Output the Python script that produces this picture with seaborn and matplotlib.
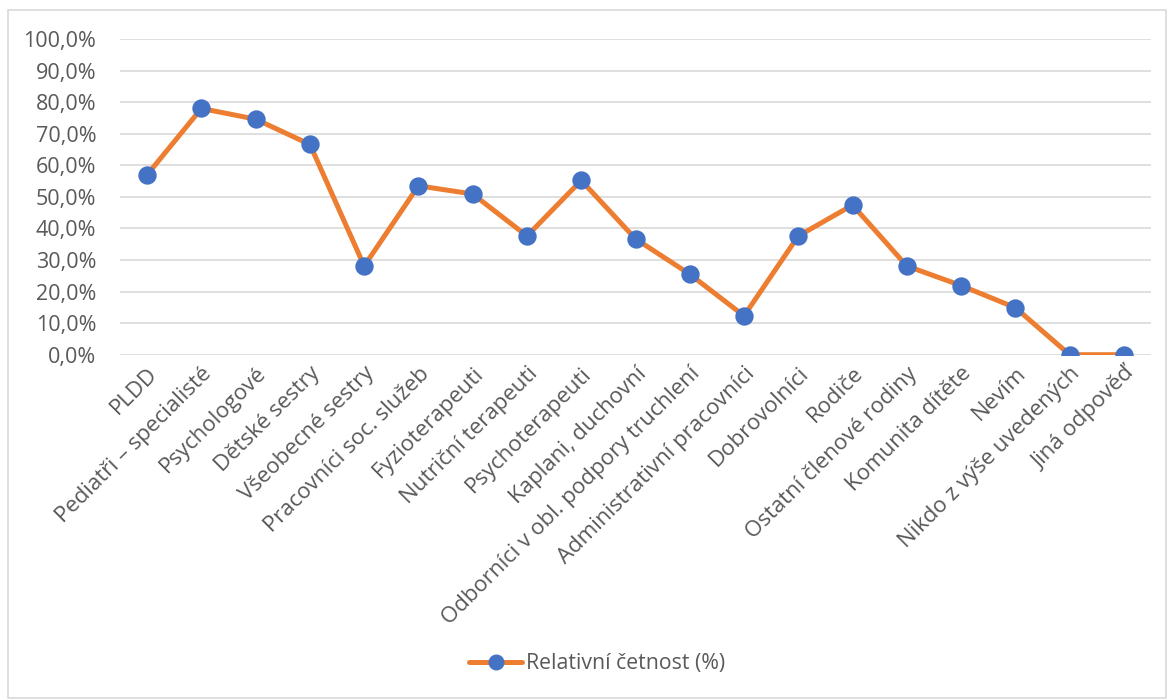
import matplotlib
matplotlib.use("Agg")
import matplotlib.pyplot as plt
import seaborn as sns
import pandas as pd
from matplotlib.lines import Line2D
from matplotlib.patches import Rectangle
from matplotlib.ticker import FuncFormatter, MultipleLocator

categories = [
    "PLDD", "Pediatři – specialisté", "Psychologové", "Dětské sestry",
    "Všeobecné sestry", "Pracovníci soc. služeb", "Fyzioterapeuti",
    "Nutriční terapeuti", "Psychoterapeuti", "Kaplani, duchovní",
    "Odborníci v obl. podpory truchlení", "Administrativní pracovníci",
    "Dobrovolníci", "Rodiče", "Ostatní členové rodiny", "Komunita dítěte",
    "Nevím", "Nikdo z výše uvedených", "Jiná odpověď",
]
values = [0.570, 0.780, 0.746, 0.666, 0.281, 0.535, 0.509, 0.376, 0.552,
          0.367, 0.255, 0.123, 0.376, 0.474, 0.281, 0.219, 0.149, 0.0, 0.0]
series_name = "Relativní četnost (%)"

LINE = "#ED7D31"
MARK = "#4472C4"
TXT = "#595959"
GRID = "#D9D9D9"

sns.set_theme(style="white")
plt.rcParams["font.family"] = ["Open Sans", "DejaVu Sans"]

W, H = 1168, 699
fig = plt.figure(figsize=(W / 100, H / 100), dpi=100)
ax = fig.add_axes([120 / W, 1 - 354.7 / H, (1151 - 120) / W, (354.7 - 39) / H])

df = pd.DataFrame({"cat": categories, "val": values})
sns.pointplot(data=df, x="cat", y="val", order=categories, ax=ax,
              color=LINE, linewidth=3.6, markersize=10.5,
              markerfacecolor=MARK, markeredgecolor=MARK, zorder=3)

ax.set_ylim(0, 1.0)
ax.yaxis.set_major_locator(MultipleLocator(0.1))
ax.yaxis.set_major_formatter(FuncFormatter(lambda v, p: f"{v*100:.1f}%".replace(".", ",")))
ax.grid(axis="y", color=GRID, linewidth=1.2)
ax.set_axisbelow(True)
for s in ax.spines.values():
    s.set_visible(False)
ax.set_xlabel("")
ax.set_ylabel("")
ax.tick_params(axis="y", labelsize=15.5, labelcolor=TXT, length=0, pad=17)
ax.tick_params(axis="x", labelsize=16, labelcolor=TXT, length=0, pad=6)
plt.setp(ax.get_xticklabels(), rotation=45, ha="right", rotation_mode="anchor")

handle = Line2D([], [], color=LINE, linewidth=3.6, marker="o", markersize=10.5,
                markerfacecolor=MARK, markeredgecolor=MARK)
fig.legend([handle], [series_name], loc="center", bbox_to_anchor=(597 / W, 1 - 664 / H),
           frameon=False, fontsize=15.3, labelcolor=TXT, handlelength=2.5,
           handletextpad=0.15)

fig.patches.append(Rectangle((8 / W, 1 / H), (W - 10) / W, (H - 11) / H,
                             transform=fig.transFigure, fill=False,
                             edgecolor=GRID, linewidth=1.2))

fig.savefig("out.png", dpi=100)
